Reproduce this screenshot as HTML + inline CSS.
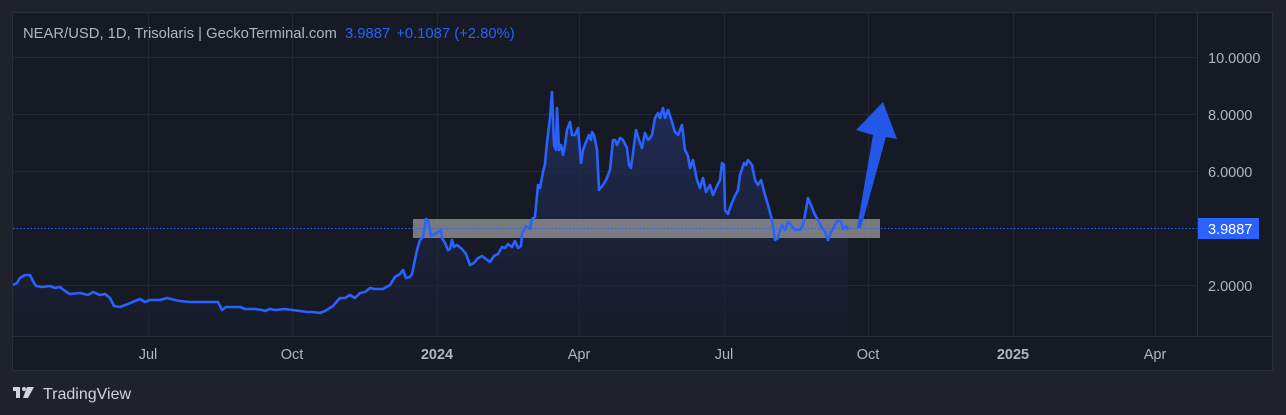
<!DOCTYPE html>
<html><head><meta charset="utf-8"><style>
html,body{margin:0;padding:0;background:#1f222c;width:1286px;height:415px;overflow:hidden;font-family:"Liberation Sans",sans-serif}
svg{display:block}
</style></head><body>
<svg width="1286" height="415" viewBox="0 0 1286 415" xmlns="http://www.w3.org/2000/svg">
<defs>
<linearGradient id="g" x1="0" y1="0" x2="0" y2="1">
<stop offset="0" stop-color="#223060" stop-opacity="0.9"/>
<stop offset="1" stop-color="#1a2033" stop-opacity="0.4"/>
</linearGradient>
</defs>
<rect x="0" y="0" width="1286" height="415" fill="#1f222c"/>
<rect x="12.5" y="12.5" width="1260" height="358" fill="#161a25" stroke="#2a2e39"/>
<g stroke="#242834" stroke-width="1">
<line x1="13" y1="57.5" x2="1197" y2="57.5"/>
<line x1="13" y1="114.5" x2="1197" y2="114.5"/>
<line x1="13" y1="171.5" x2="1197" y2="171.5"/>
<line x1="13" y1="285.5" x2="1197" y2="285.5"/>
<line x1="148.5" y1="13" x2="148.5" y2="336"/>
<line x1="292.5" y1="13" x2="292.5" y2="336"/>
<line x1="437.5" y1="13" x2="437.5" y2="336"/>
<line x1="579.5" y1="13" x2="579.5" y2="336"/>
<line x1="724.5" y1="13" x2="724.5" y2="336"/>
<line x1="868.5" y1="13" x2="868.5" y2="336"/>
<line x1="1013.5" y1="13" x2="1013.5" y2="336"/>
<line x1="1155.5" y1="13" x2="1155.5" y2="336"/>
</g>
<line x1="13" y1="336.5" x2="1272" y2="336.5" stroke="#2a2e39"/>
<line x1="1197.5" y1="13" x2="1197.5" y2="336" stroke="#2a2e39"/>
<polygon fill="url(#g)" points="13,336 13,285 17,283 20,278 25,275 30,275 33,281 36,286 42,287 50,286 55,288 60,287 65,291 70,294 80,293 88,295 93,292 100,295 105,294 110,298 114,306 120,307 128,304 135,301 140,299 145,302 150,300 160,300 167,298 175,300 180,301 190,302 200,302 210,302 218,302 222,310 226,307 240,307 245,309 255,309 262,310 265,311 270,309 275,310 285,309 292,310 300,311 307,312 313,312 320,313 325,311 333,306 340,298 345,298 350,295 355,298 360,293 365,292 370,288 375,289 383,289 390,285 395,277 400,274 403,270 406,278 410,277 412,274 417,250 420,240 423,237 426,219 428,220 431,236 435,234 438,232 441,230 442,238 445,243 448,250 450,249 452,240 454,247 457,245 462,249 466,254 470,265 474,263 478,258 482,256 486,259 490,262 494,256 498,254 502,247 505,248 508,244 512,247 515,241 518,248 521,246 522,234 526,226 530,229 532,219 535,217 538,185 540,188 543,172 545,164 547,142 550,118 552,92 554,145 556,150 557,108 559,150 561,145 563,155 565,145 567,130 570,122 572,135 575,135 578,128 581,163 583,150 586,142 589,135 591,140 592,132 594,135 597,150 599,190 603,185 606,180 610,170 613,140 615,140 617,145 620,138 623,140 627,148 629,165 631,168 633,153 636,130 639,140 642,148 645,133 648,140 650,138 652,135 655,118 658,113 660,118 663,108 665,118 668,110 672,122 675,132 678,135 682,125 685,150 688,156 690,168 693,160 697,180 700,188 703,178 706,192 710,185 713,195 716,188 720,180 722,163 724,165 725,210 728,214 731,205 734,198 738,190 740,175 744,163 746,165 748,160 752,165 755,180 758,185 761,180 765,195 768,205 772,220 775,240 778,238 780,230 782,225 785,230 788,222 791,225 795,230 800,230 803,225 805,215 808,198 811,205 815,215 818,220 822,228 825,232 828,240 831,232 835,225 838,220 841,222 843,229 846,226 848,230 848,336"/>
<rect x="413" y="219" width="467" height="19" fill="#9a9a9a" fill-opacity="0.75"/>
<line x1="13" y1="228.5" x2="1197" y2="228.5" stroke="#2962ff" stroke-width="1" stroke-dasharray="1.5 2"/>
<polyline fill="none" stroke="#2962ff" stroke-width="2.6" stroke-linejoin="round" points="13,285 17,283 20,278 25,275 30,275 33,281 36,286 42,287 50,286 55,288 60,287 65,291 70,294 80,293 88,295 93,292 100,295 105,294 110,298 114,306 120,307 128,304 135,301 140,299 145,302 150,300 160,300 167,298 175,300 180,301 190,302 200,302 210,302 218,302 222,310 226,307 240,307 245,309 255,309 262,310 265,311 270,309 275,310 285,309 292,310 300,311 307,312 313,312 320,313 325,311 333,306 340,298 345,298 350,295 355,298 360,293 365,292 370,288 375,289 383,289 390,285 395,277 400,274 403,270 406,278 410,277 412,274 417,250 420,240 423,237 426,219 428,220 431,236 435,234 438,232 441,230 442,238 445,243 448,250 450,249 452,240 454,247 457,245 462,249 466,254 470,265 474,263 478,258 482,256 486,259 490,262 494,256 498,254 502,247 505,248 508,244 512,247 515,241 518,248 521,246 522,234 526,226 530,229 532,219 535,217 538,185 540,188 543,172 545,164 547,142 550,118 552,92 554,145 556,150 557,108 559,150 561,145 563,155 565,145 567,130 570,122 572,135 575,135 578,128 581,163 583,150 586,142 589,135 591,140 592,132 594,135 597,150 599,190 603,185 606,180 610,170 613,140 615,140 617,145 620,138 623,140 627,148 629,165 631,168 633,153 636,130 639,140 642,148 645,133 648,140 650,138 652,135 655,118 658,113 660,118 663,108 665,118 668,110 672,122 675,132 678,135 682,125 685,150 688,156 690,168 693,160 697,180 700,188 703,178 706,192 710,185 713,195 716,188 720,180 722,163 724,165 725,210 728,214 731,205 734,198 738,190 740,175 744,163 746,165 748,160 752,165 755,180 758,185 761,180 765,195 768,205 772,220 775,240 778,238 780,230 782,225 785,230 788,222 791,225 795,230 800,230 803,225 805,215 808,198 811,205 815,215 818,220 822,228 825,232 828,240 831,232 835,225 838,220 841,222 843,229 846,226 848,230"/>
<polygon fill="#2257e8" points="857,228 873,135 856,130 883,102 897,139 886,137 861,228"/>
<g font-size="14.5" fill="#b2b5be">
<text x="1208" y="63">10.0000</text>
<text x="1208" y="120">8.0000</text>
<text x="1208" y="177">6.0000</text>
<text x="1208" y="291">2.0000</text>
<text x="148" y="359" text-anchor="middle">Jul</text>
<text x="292" y="359" text-anchor="middle">Oct</text>
<text x="437" y="359" text-anchor="middle" font-weight="bold">2024</text>
<text x="579" y="359" text-anchor="middle">Apr</text>
<text x="724" y="359" text-anchor="middle">Jul</text>
<text x="868" y="359" text-anchor="middle">Oct</text>
<text x="1013" y="359" text-anchor="middle" font-weight="bold">2025</text>
<text x="1155" y="359" text-anchor="middle">Apr</text>
</g>
<rect x="1198" y="218" width="61" height="21" fill="#2962ff"/>
<text x="1208" y="234" font-size="14.5" fill="#ffffff">3.9887</text>
<text x="23" y="38" font-size="14.8" fill="#b2b5be">NEAR/USD, 1D, Trisolaris | GeckoTerminal.com <tspan fill="#2962ff" dx="4">3.9887</tspan><tspan fill="#2962ff" dx="6">+0.1087 (+2.80%)</tspan></text>
<g fill="#d1d4dc">
<rect x="13" y="387" width="7" height="4"/>
<rect x="16" y="387" width="4" height="11"/>
<circle cx="24" cy="389" r="2"/>
<polygon points="27,387 34,387 28,398 23,398"/>
<text x="43" y="399" font-size="16">TradingView</text>
</g>
</svg>
</body></html>
